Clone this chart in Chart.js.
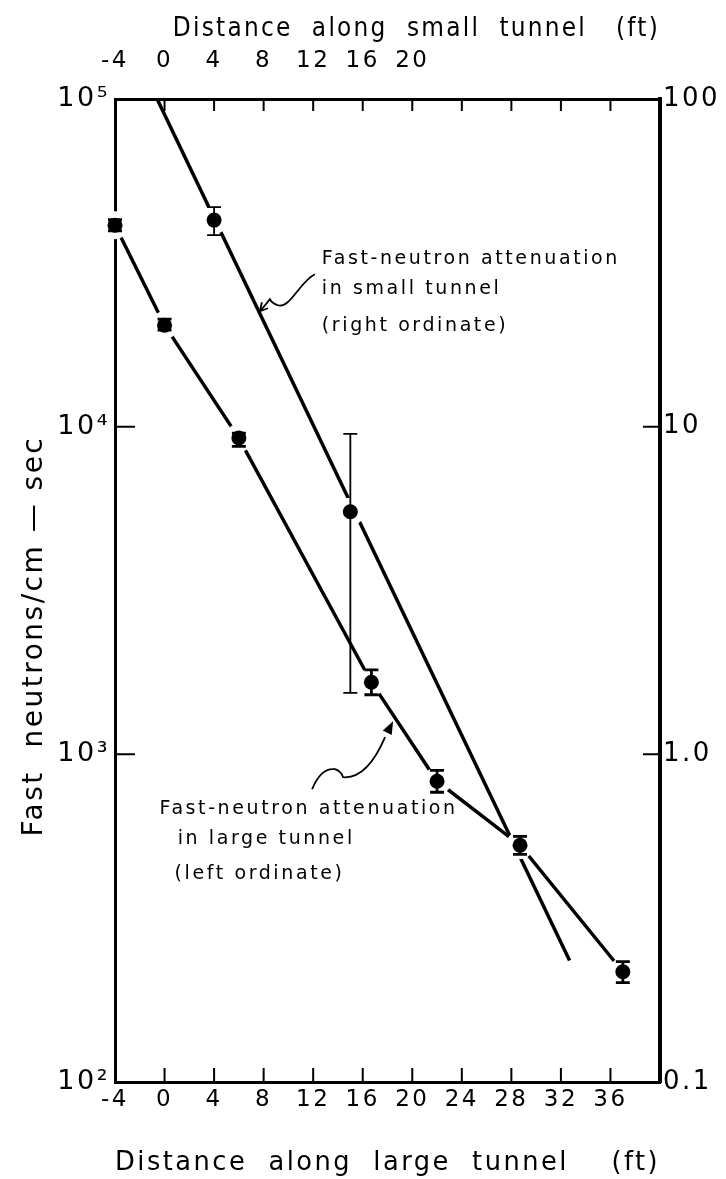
<!DOCTYPE html>
<html>
<head>
<meta charset="utf-8">
<title>Fast-neutron attenuation in tunnels</title>
<script src="https://cdn.jsdelivr.net/npm/chart.js@4.4.1/dist/chart.umd.min.js"></script>
<style>
  html, body { margin: 0; padding: 0; background: #fff; }
  #wrap { width: 726px; height: 1179px; position: relative; }
</style>
</head>
<body>
<div id="wrap"><canvas id="attenuationChart"></canvas></div>
<script>
// large tunnel: bottom axis (ft) against left ordinate
const largeDist = [-4, 0, 6, 16.7, 22, 28.7, 37];
const largeFlux = [41200, 20400, 9230, 1660, 828, 528, 217];
const largeLow = [39600, 19700, 8710, 1520, 766, 495, 201];
const largeHigh = [42800, 21300, 9550, 1810, 893, 562, 233];

// small tunnel: top axis (ft) against right ordinate
const smallDist = [4, 15];
const smallFlux = [42.7, 5.5];
const smallLow = [38.4, 1.54];
const smallHigh = [46.8, 9.5];

// straight fit drawn through the small tunnel points
const smallFitDist = [-0.6, 32.7];
const smallFitFlux = [100, 0.235];

const xTicks = [-4, 0, 4, 8, 12, 16, 20, 24, 28, 32, 36];
const x2Ticks = [-4, 0, 4, 8, 12, 16, 20];
const yTicks = [100, 1000, 10000, 100000];
const yTickLabels = ['10²', '10³', '10⁴', '10⁵'];
const y2Ticks = [0.1, 1, 10, 100];
const y2TickLabels = ['0.1', '1.0', '10', '100'];

const smallNote = ['Fast-neutron attenuation', 'in small tunnel', '(right ordinate)'];
const largeNote = ['Fast-neutron attenuation', 'in large tunnel', '(left ordinate)'];

Chart.defaults.font.family = '"DejaVu Sans", sans-serif';
Chart.defaults.color = '#000';

const pairs = (xs, ys) => xs.map((x, i) => ({ x, y: ys[i] }));

function fixSize(prop, size) {
  return (scale) => { scale[prop] = size; };
}

// the lettering on the original is widely spaced
const spacing = {
  id: 'spacing',
  beforeDraw(chart) {
    chart.ctx.letterSpacing = '2.5px';
  }
};

function drawErrorBars(chart, xId, yId, xs, lows, highs, width) {
  const ctx = chart.ctx;
  const sx = chart.scales[xId];
  const sy = chart.scales[yId];
  ctx.lineWidth = width;
  xs.forEach((x, i) => {
    const px = sx.getPixelForValue(x);
    const top = sy.getPixelForValue(highs[i]);
    const bot = sy.getPixelForValue(lows[i]);
    ctx.beginPath();
    ctx.moveTo(px, top);
    ctx.lineTo(px, bot);
    ctx.moveTo(px - 7, top);
    ctx.lineTo(px + 7, top);
    ctx.moveTo(px - 7, bot);
    ctx.lineTo(px + 7, bot);
    ctx.stroke();
  });
}

const errorBars = {
  id: 'errorBars',
  afterDatasetsDraw(chart) {
    const ctx = chart.ctx;
    ctx.save();
    ctx.strokeStyle = '#000';
    drawErrorBars(chart, 'x', 'y', largeDist, largeLow, largeHigh, 2.8);
    drawErrorBars(chart, 'x2', 'y2', smallDist, smallLow, smallHigh, 1.8);
    ctx.restore();
  }
};

// tick marks pointing into the plot
const innerTicks = {
  id: 'innerTicks',
  afterDatasetsDraw(chart) {
    const { ctx, chartArea: a, scales } = chart;
    ctx.save();
    ctx.strokeStyle = '#000';
    ctx.lineWidth = 2;
    ctx.beginPath();
    xTicks.slice(1).forEach((v) => {
      const px = scales.x.getPixelForValue(v);
      ctx.moveTo(px, a.bottom);
      ctx.lineTo(px, a.bottom - 14);
      ctx.moveTo(px, a.top);
      ctx.lineTo(px, a.top + 12);
    });
    yTicks.slice(1, 3).forEach((v) => {
      const py = scales.y.getPixelForValue(v);
      ctx.moveTo(a.left, py);
      ctx.lineTo(a.left + 20, py);
    });
    y2Ticks.slice(1, 3).forEach((v) => {
      const py = scales.y2.getPixelForValue(v);
      ctx.moveTo(a.right, py);
      ctx.lineTo(a.right - 17, py);
    });
    ctx.stroke();
    ctx.restore();
  }
};

function writeNote(ctx, lines, spots, chart) {
  lines.forEach((t, i) => {
    const [x, y] = spots[i];
    ctx.fillText(t, chart.scales.x.getPixelForValue(x), chart.scales.y.getPixelForValue(y));
  });
}

const notes = {
  id: 'notes',
  afterDraw(chart) {
    const { ctx, scales } = chart;
    ctx.save();
    ctx.fillStyle = '#000';
    ctx.strokeStyle = '#000';
    ctx.font = '19px "DejaVu Sans", sans-serif';
    ctx.letterSpacing = '2.6px';
    ctx.textAlign = 'left';
    ctx.textBaseline = 'middle';
    writeNote(ctx, smallNote, [[12.7, 32500], [12.7, 26300], [12.7, 20300]], chart);
    writeNote(ctx, largeNote, [[-0.4, 679], [1.06, 550], [0.81, 430]], chart);

    // leader to the small tunnel line
    let tx = scales.x.getPixelForValue(7.7);
    let ty = scales.y.getPixelForValue(22500);
    ctx.lineWidth = 1.8;
    ctx.beginPath();
    ctx.moveTo(tx + 55, ty - 37);
    ctx.bezierCurveTo(tx + 40, ty - 30, tx + 30, ty - 2, tx + 18, ty - 6);
    ctx.quadraticCurveTo(tx + 12, ty - 8, tx + 10, ty - 12);
    ctx.lineTo(tx + 1, ty - 1);
    ctx.moveTo(tx, ty);
    ctx.lineTo(tx + 2, ty - 9);
    ctx.moveTo(tx, ty);
    ctx.lineTo(tx + 8, ty - 3);
    ctx.stroke();

    // leader to the large tunnel line
    tx = scales.x.getPixelForValue(18.45);
    ty = scales.y.getPixelForValue(1262);
    ctx.beginPath();
    ctx.moveTo(tx - 81, ty + 68);
    ctx.quadraticCurveTo(tx - 72, ty + 46, tx - 58, ty + 48);
    ctx.quadraticCurveTo(tx - 52, ty + 50, tx - 50, ty + 56);
    ctx.quadraticCurveTo(tx - 26, ty + 58, tx - 8, ty + 16);
    ctx.stroke();
    const ang = Math.atan2(-16, 8);
    ctx.beginPath();
    ctx.moveTo(tx, ty);
    ctx.lineTo(tx - 13 * Math.cos(ang) + 5 * Math.sin(ang), ty - 13 * Math.sin(ang) - 5 * Math.cos(ang));
    ctx.lineTo(tx - 13 * Math.cos(ang) - 5 * Math.sin(ang), ty - 13 * Math.sin(ang) + 5 * Math.cos(ang));
    ctx.closePath();
    ctx.fill();
    ctx.restore();
  }
};

new Chart(document.getElementById('attenuationChart'), {
  type: 'scatter',
  data: {
    datasets: [
      { label: 'large tunnel', data: pairs(largeDist, largeFlux), xAxisID: 'x', yAxisID: 'y', showLine: true, borderColor: '#000', borderWidth: 3.5, pointRadius: 0, order: 3, clip: false },
      { label: 'small tunnel fit', data: pairs(smallFitDist, smallFitFlux), xAxisID: 'x2', yAxisID: 'y2', showLine: true, borderColor: '#000', borderWidth: 3.5, pointRadius: 0, order: 3, clip: false },
      { label: 'large halo', data: pairs(largeDist, largeFlux), xAxisID: 'x', yAxisID: 'y', pointRadius: 14, pointBackgroundColor: '#fff', pointBorderWidth: 0, order: 2, clip: false },
      { label: 'small halo', data: pairs(smallDist, smallFlux), xAxisID: 'x2', yAxisID: 'y2', pointRadius: 14, pointBackgroundColor: '#fff', pointBorderWidth: 0, order: 2, clip: false },
      { label: 'large points', data: pairs(largeDist, largeFlux), xAxisID: 'x', yAxisID: 'y', pointRadius: 7.5, pointBackgroundColor: '#000', pointBorderWidth: 0, order: 1, clip: false },
      { label: 'small points', data: pairs(smallDist, smallFlux), xAxisID: 'x2', yAxisID: 'y2', pointRadius: 7.5, pointBackgroundColor: '#000', pointBorderWidth: 0, order: 1, clip: false }
    ]
  },
  options: {
    responsive: true,
    maintainAspectRatio: false,
    animation: false,
    layout: { padding: 0, autoPadding: false },
    plugins: { legend: { display: false }, tooltip: { enabled: false } },
    scales: {
      x: {
        type: 'linear', position: 'bottom', min: -4, max: 40,
        afterBuildTicks: (s) => { s.ticks = xTicks.map((value) => ({ value })); },
        afterFit: fixSize('height', 97),
        grid: { display: false, drawTicks: false },
        border: { display: true, width: 3, color: '#000' },
        ticks: { padding: 4, autoSkip: false, maxRotation: 0, font: { size: 23 }, callback: (v) => String(v) },
        title: { display: true, text: 'Distance  along  large  tunnel    (ft)', font: { size: 26 }, padding: { top: 0, bottom: 0 } }
      },
      x2: {
        type: 'linear', position: 'top', min: -4, max: 40,
        afterBuildTicks: (s) => { s.ticks = x2Ticks.map((value) => ({ value })); },
        afterFit: fixSize('height', 99),
        grid: { display: false, drawTicks: false },
        border: { display: true, width: 3, color: '#000' },
        ticks: { padding: 24, autoSkip: false, maxRotation: 0, font: { size: 23 }, callback: (v) => String(v) },
        // leading spaces push the visible text right, as in the original
        title: { display: true, text: '      Distance  along  small  tunnel   (ft)', font: { size: 26 }, padding: { top: 14, bottom: 0 } }
      },
      y: {
        type: 'logarithmic', position: 'left', min: 100, max: 100000,
        afterBuildTicks: (s) => { s.ticks = yTicks.map((value) => ({ value })); },
        afterFit: fixSize('width', 115),
        grid: { display: false, drawTicks: false },
        border: { display: true, width: 3, color: '#000' },
        ticks: { padding: 5, font: { size: 27 }, callback: (v, i) => yTickLabels[i] },
        // trailing spaces move the visible text down to where the original has it
        title: { display: true, text: 'Fast  neutrons/cm — sec        ', font: { size: 28 }, padding: { top: 18, bottom: 0 } }
      },
      y2: {
        type: 'logarithmic', position: 'right', min: 0.1, max: 100,
        afterBuildTicks: (s) => { s.ticks = y2Ticks.map((value) => ({ value })); },
        afterFit: fixSize('width', 66),
        grid: { display: false, drawTicks: false },
        border: { display: true, width: 4, color: '#000' },
        ticks: { padding: 3, font: { size: 26 }, callback: (v, i) => y2TickLabels[i] }
      }
    }
  },
  plugins: [spacing, errorBars, innerTicks, notes]
});
</script>
</body>
</html>
